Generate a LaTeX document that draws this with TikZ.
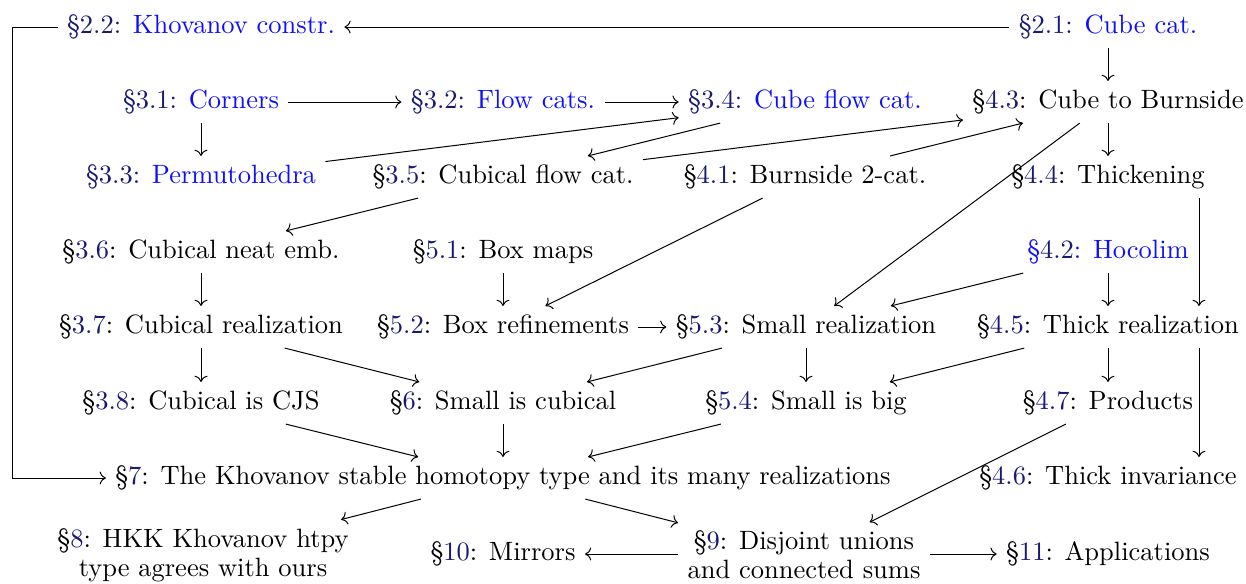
\documentclass[tikz,border=0pt]{standalone}
\usetikzlibrary{cd}
\definecolor{secnum}{rgb}{0.1,0.1,0.45}
\definecolor{ttl}{rgb}{0.05,0.05,1}
\newcommand{\sect}[1]{\S\textcolor{secnum}{#1}}
\newcommand{\bsect}[2]{\textcolor{secnum}{\S#1:} \textcolor{ttl}{#2}}
\begin{document}
\begin{tikzpicture}[x=0.4pt,y=-0.4pt,
  sec/.style={inner xsep=3.6pt, inner ysep=3.3pt, align=center, font=\fontsize{10.6}{11.6}\selectfont},
  arr/.style={-{cm to}, line width=0.4pt}]
\useasboundingbox (0,0) rectangle (1246,583);
\node[sec] (n22) at (201,27) {\bsect{2.2}{Khovanov constr.}};
\node[sec] (n21) at (1108,27) {\bsect{2.1}{Cube cat.}};
\node[sec] (n31) at (201,102) {\bsect{3.1}{Corners}};
\node[sec] (n32) at (503,102) {\bsect{3.2}{Flow cats.}};
\node[sec] (n34) at (805,102) {\bsect{3.4}{Cube flow cat.}};
\node[sec] (n43) at (1108,102) {\sect{4.3}: Cube to Burnside};
\node[sec] (n33) at (201,177) {\bsect{3.3}{Permutohedra}};
\node[sec] (n35) at (503,177) {\sect{3.5}: Cubical flow cat.};
\node[sec] (n41) at (805,177) {\sect{4.1}: Burnside 2-cat.};
\node[sec] (n44) at (1108,177) {\sect{4.4}: Thickening};
\node[sec] (n36) at (201,252) {\sect{3.6}: Cubical neat emb.};
\node[sec] (n51) at (503,252) {\sect{5.1}: Box maps};
\node[sec] (n42) at (1108,252) {\textcolor{ttl}{\S}\textcolor{secnum}{4.2}\textcolor{ttl}{:} \textcolor{ttl}{Hocolim}};
\node[sec] (n37) at (201,327) {\sect{3.7}: Cubical realization};
\node[sec] (n52) at (503,327) {\sect{5.2}: Box refinements};
\node[sec] (n53) at (806,327) {\sect{5.3}: Small realization};
\node[sec] (n45) at (1108,327) {\sect{4.5}: Thick realization};
\node[sec] (n38) at (201,403) {\sect{3.8}: Cubical is CJS};
\node[sec] (n6) at (503,403) {\sect{6}: Small is cubical};
\node[sec] (n54) at (806,403) {\sect{5.4}: Small is big};
\node[sec] (n47) at (1108,403) {\sect{4.7}: Products};
\node[sec] (n7) at (503,478) {\sect{7}: The Khovanov stable homotopy type and its many realizations};
\node[sec] (n46) at (1108,478) {\sect{4.6}: Thick invariance};
\node[sec] (n8) at (203,555) {\sect{8}: HKK Khovanov htpy\\type agrees with ours};
\node[sec] (n10) at (503,554) {\sect{10}: Mirrors};
\node[sec] (n9) at (804,555) {\sect{9}: Disjoint unions\\and connected sums};
\node[sec] (n11) at (1108,554) {\sect{11}: Applications};
\coordinate (L1) at (12,27);
\coordinate (L2) at (12,478);
\draw[arr] (n21) -- (n22);
\draw[arr] (n21) -- (n43);
\draw[arr] (n31) -- (n32);
\draw[arr] (n32) -- (n34);
\draw[arr] (n31) -- (n33);
\draw[arr] (n33) -- (n34);
\draw[arr] (n34) -- (n35);
\draw[arr] (n35) -- (n43);
\draw[arr] (n41) -- (n43);
\draw[arr] (n43) -- (n44);
\draw[arr] (n43) -- (n53);
\draw[arr] (n35) -- (n36);
\draw[arr] (n41) -- (n52);
\draw[arr] (n51) -- (n52);
\draw[arr] (n36) -- (n37);
\draw[arr] (n42) -- (n53);
\draw[arr] (n42) -- (n45);
\draw[arr] ([xshift=36.4pt]n44.south) -- ([xshift=36.4pt]n45.north);
\draw[arr] (n52) -- (n53);
\draw[arr] (n37) -- (n38);
\draw[arr] (n37) -- (n6);
\draw[arr] (n53) -- (n6);
\draw[arr] (n53) -- (n54);
\draw[arr] (n45) -- (n54);
\draw[arr] (n45) -- (n47);
\draw[arr] ([xshift=36.4pt]n45.south) -- ([xshift=36.4pt]n46.north);
\draw[arr] (n38) -- (n7);
\draw[arr] (n6) -- (n7);
\draw[arr] (n54) -- (n7);
\draw[arr] (n47) -- (n9);
\draw[arr] (n7) -- (n8);
\draw[arr] (n7) -- (n9);
\draw[arr] (n9.west |- n10) -- (n10);
\draw[arr] (n9.east |- n11) -- (n11);
\draw[arr] (n22.west) -- (L1) -- (L2) -- (n7.west);
\end{tikzpicture}
\end{document}
